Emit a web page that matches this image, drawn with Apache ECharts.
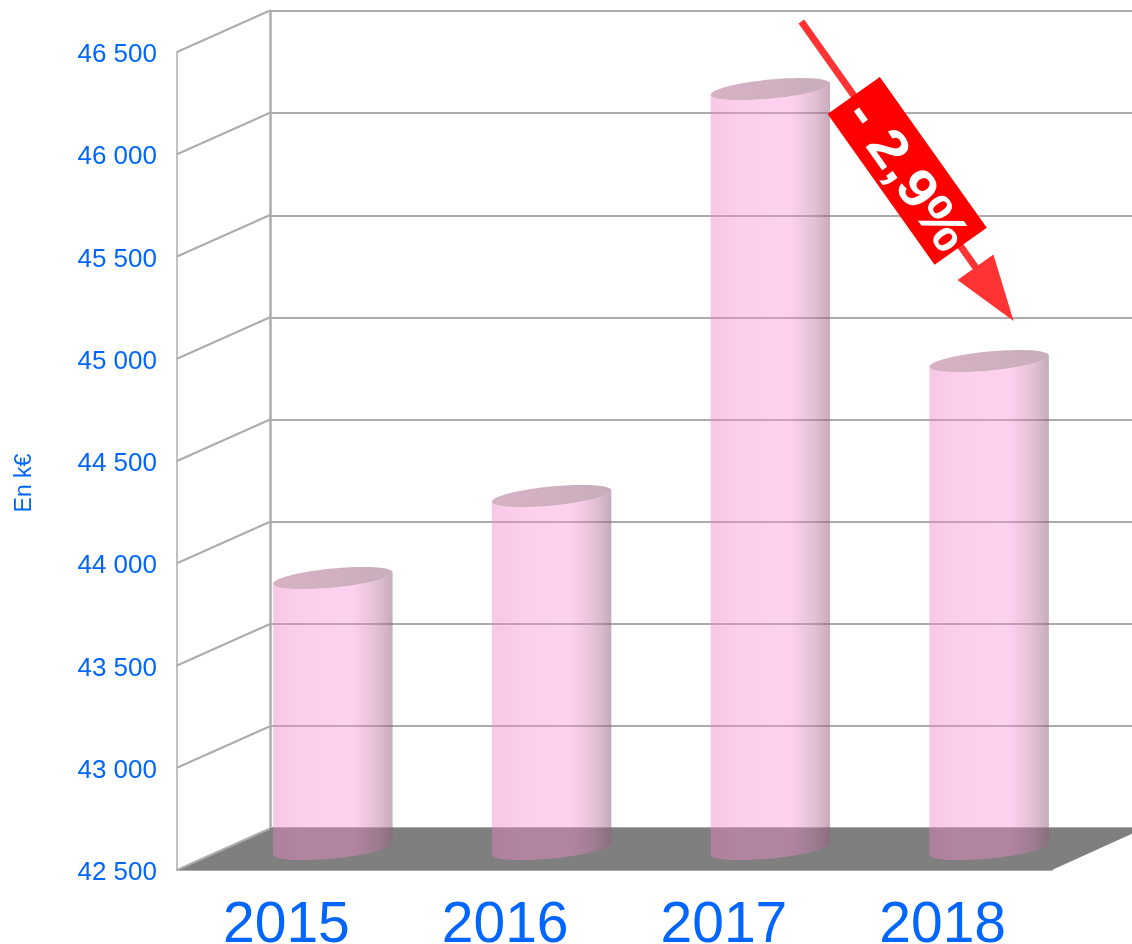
<!DOCTYPE html>
<html><head><meta charset="utf-8">
<style>html,body{margin:0;padding:0;background:#fff}#c{width:1132px;height:944px}</style>
<script src="https://cdn.jsdelivr.net/npm/echarts@6/dist/echarts.min.js"></script>
</head><body><div id="c"></div>
<script>
const categories = ['2015', '2016', '2017', '2018'];
const barValues = [43825, 44226, 46216, 44886];
const yTicks = [42500, 43000, 43500, 44000, 44500, 45000, 45500, 46000, 46500];
const changeLabel = '- 2,9%';
const arrowFromIndex = 2, arrowToIndex = 3;

const BLUE = '#0066ff', GRID = '#acacac';
const DX = 93, DY = -42;          // depth of the pseudo-3D box
const RX = 60, RY = 9.5, TILT = -5.5 * Math.PI / 180;

function ell(cx, cy, t) {
  const x = RX * Math.cos(t), y = RY * Math.sin(t);
  return [cx + x * Math.cos(TILT) - y * Math.sin(TILT), cy + x * Math.sin(TILT) + y * Math.cos(TILT)];
}
function arc(cx, cy, a, b, n) {
  const out = [];
  for (let i = 0; i <= n; i++) out.push(ell(cx, cy, a + (b - a) * i / n));
  return out;
}
const bodyFill = {
  type: 'linear', x: 0, y: 0, x2: 1, y2: 0,
  colorStops: [
    { offset: 0, color: 'rgba(238,130,198,0.44)' },
    { offset: 0.3, color: 'rgba(248,141,210,0.41)' },
    { offset: 0.66, color: 'rgba(252,141,214,0.40)' },
    { offset: 0.86, color: 'rgba(195,120,168,0.46)' },
    { offset: 1, color: 'rgba(145,95,125,0.52)' }
  ]
};
const capFill = {
  type: 'linear', x: 0, y: 0, x2: 1, y2: 0,
  colorStops: [
    { offset: 0, color: 'rgba(160,70,115,0.42)' },
    { offset: 1, color: 'rgba(140,85,115,0.48)' }
  ]
};
function renderBar(params, api) {
  const i = api.value(0), v = api.value(1);
  const top = api.coord([i, v]), base = api.coord([i, yTicks[0]]);
  const cx = top[0] + DX / 2, ty = top[1] + DY / 2, by = base[1] + DY / 2;
  const topLow = arc(cx, ty, Math.PI, 0, 40);        // lower rim, left to right
  const botLow = arc(cx, by, 0, Math.PI, 40);        // lower rim, right to left
  return {
    type: 'group', children: [
      { type: 'polygon', shape: { points: topLow.concat(botLow) }, style: { fill: bodyFill }, silent: true },
      { type: 'polygon', shape: { points: arc(cx, ty, 0, 2 * Math.PI, 80) }, style: { fill: capFill }, silent: true }
    ]
  };
}
function renderFloor(params) {
  const c = params.coordSys, x0 = c.x, x1 = c.x + c.width, y = c.y + c.height;
  return {
    type: 'polygon', silent: true,
    shape: { points: [[x0, y], [x1, y], [x1 + DX, y + DY], [x0 + DX, y + DY]] },
    style: { fill: '#7f7f7f' }
  };
}
function renderDiagonal(params, api) {
  const c = params.coordSys, y = api.coord([0, api.value(0)])[1];
  return {
    type: 'line', silent: true,
    shape: { x1: c.x, y1: y, x2: c.x + DX, y2: y + DY + 0.5 },
    style: { stroke: GRID, lineWidth: 2 }
  };
}
function barCentre(api, i) {
  const p = api.coord([i, barValues[i]]);
  return [p[0] + DX / 2, p[1] + DY / 2];
}
function renderArrow(params, api) {
  const a = barCentre(api, arrowFromIndex), b = barCentre(api, arrowToIndex);
  const s = [a[0] + 31, a[1] - 67.5], e = [b[0] + 24.5, b[1] - 40];
  const L = Math.hypot(e[0] - s[0], e[1] - s[1]);
  const ux = (e[0] - s[0]) / L, uy = (e[1] - s[1]) / L, nx = -uy, ny = ux;
  const at = (t, w) => [s[0] + ux * t + nx * w, s[1] + uy * t + ny * w];
  const HEAD = 66, HW = 22, RC = 183, RL = 92.5, RW = 32;
  const rc = at(RC + 4, 5), ang = Math.atan2(uy, ux);
  return {
    type: 'group', children: [
      { type: 'polygon', silent: true, shape: { points: [at(0, -3.5), at(L - HEAD + 2, -3.5), at(L - HEAD + 2, 3.5), at(0, 3.5)] }, style: { fill: '#ff3333' } },
      { type: 'polygon', silent: true, shape: { points: [at(L - HEAD, -HW), at(L, 0), at(L - HEAD, HW)] }, style: { fill: '#ff3333' } },
      { type: 'polygon', silent: true, shape: { points: [at(RC - RL, -RW), at(RC + RL, -RW), at(RC + RL, RW), at(RC - RL, RW)] }, style: { fill: '#ff0000' } },
      {
        type: 'text', silent: true, x: rc[0], y: rc[1], rotation: -ang, scaleX: 1.1, scaleY: 1,
        style: { text: changeLabel, fill: '#fff', font: 'bold 54px "Liberation Sans"', align: 'center', verticalAlign: 'middle' }
      }
    ]
  };
}

const chart = echarts.init(document.getElementById('c'), null, { renderer: 'canvas' });
chart.setOption({
  animation: false,
  backgroundColor: '#fff',
  textStyle: { fontFamily: '"Liberation Sans"' },
  grid: [
    { left: 177, top: 52, width: 875, height: 818, outerBoundsMode: 'none' },
    { left: 270, top: 11, width: 862, height: 817, outerBoundsMode: 'none' }
  ],
  xAxis: [
    {
      type: 'category', gridIndex: 0, data: categories,
      axisTick: { show: false },
      axisLine: { show: true, lineStyle: { color: GRID, width: 2 } },
      axisLabel: { color: BLUE, fontSize: 57, margin: 28, fontFamily: '"Liberation Sans"', interval: 0 }
    },
    { type: 'category', gridIndex: 1, data: categories, show: false }
  ],
  yAxis: [
    {
      type: 'value', gridIndex: 0, min: yTicks[0], max: yTicks[yTicks.length - 1], interval: 500,
      axisLine: { show: true, lineStyle: { color: GRID, width: 1.5 } },
      axisTick: { show: false }, splitLine: { show: false },
      axisLabel: {
        color: BLUE, fontSize: 26, margin: 20, verticalAlign: 'top', lineHeight: 6, fontFamily: '"Liberation Sans"',
        formatter: v => String(v).replace(/(\d{2})(\d{3})/, '$1 $2')
      }
    },
    {
      type: 'value', gridIndex: 1, min: yTicks[0], max: yTicks[yTicks.length - 1], interval: 500,
      axisLine: { show: true, lineStyle: { color: GRID, width: 2.5 } },
      axisTick: { show: false }, axisLabel: { show: false },
      splitLine: { show: true, lineStyle: { color: GRID, width: 2 } }
    }
  ],
  series: [
    { type: 'custom', name: 'floor', xAxisIndex: 0, yAxisIndex: 0, z: 2, clip: false, data: [[0, yTicks[0]]], renderItem: renderFloor, encode: { x: 0, y: 1 } },
    { type: 'custom', name: 'wall', xAxisIndex: 0, yAxisIndex: 0, z: 2, clip: false, data: yTicks.map(v => [v]), renderItem: renderDiagonal, encode: { y: 0 } },
    { type: 'custom', name: 'bars', xAxisIndex: 0, yAxisIndex: 0, z: 3, clip: false, data: barValues.map((v, i) => [i, v]), renderItem: renderBar, encode: { x: 0, y: 1 } },
    { type: 'custom', name: 'change', xAxisIndex: 0, yAxisIndex: 0, z: 4, clip: false, data: [[arrowFromIndex, barValues[arrowFromIndex]]], renderItem: renderArrow, encode: { x: 0, y: 1 } }
  ],
  graphic: [{
    type: 'text', x: 25, y: 483, rotation: Math.PI / 2, silent: true,
    style: { text: 'En k€', fill: BLUE, font: '23px "Liberation Sans"', align: 'center', verticalAlign: 'middle' }
  }]
});
</script></body></html>
